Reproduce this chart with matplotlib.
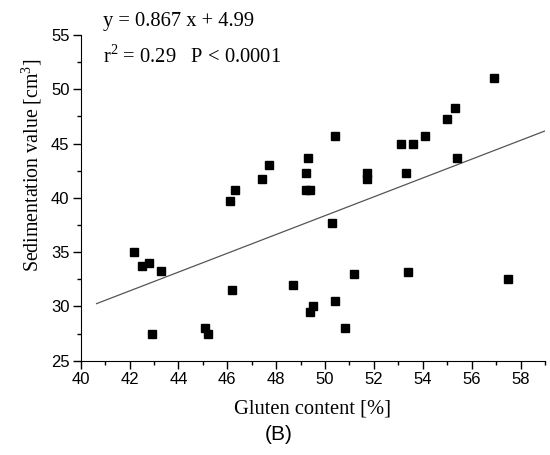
import matplotlib
matplotlib.use("Agg")
import matplotlib.pyplot as plt
import numpy as np
from matplotlib.ticker import MultipleLocator

# gluten content [%] and sedimentation value [cm3]
gluten = [42.2, 42.5, 42.8, 43.3, 42.9, 45.1, 45.2, 46.1, 46.3, 46.2,
          47.4, 47.7, 48.7, 49.2, 49.3, 49.2, 49.4, 49.4, 49.5, 50.3,
          50.4, 50.4, 50.8, 51.2, 51.7, 51.7, 53.1, 53.3, 53.6, 53.4,
          54.1, 55.0, 55.3, 55.4, 56.9, 57.5]
sediment = [35.0, 33.7, 34.0, 33.3, 27.5, 28.0, 27.5, 39.7, 40.7, 31.5,
            41.7, 43.0, 32.0, 42.3, 43.7, 40.7, 40.7, 29.5, 30.0, 37.7,
            45.7, 30.5, 28.0, 33.0, 42.3, 41.7, 45.0, 42.3, 45.0, 33.2,
            45.7, 47.3, 48.3, 43.7, 51.0, 32.5]

# fitted line as drawn (intercept of drawn line is negative)
slope = 0.867
intercept = -4.99
line_x = [40.65, 59.0]

SERIF = "Liberation Serif"
SANS = "Liberation Sans"

plt.rcParams["font.family"] = SANS
plt.rcParams["mathtext.fontset"] = "custom"
plt.rcParams["mathtext.rm"] = SERIF

fig = plt.figure(figsize=(5.5, 4.55), dpi=100)
ax = fig.add_axes([0.1467, 0.2073, 0.8442, 0.7158])

lx = np.array(line_x)
ax.plot(lx, slope * lx + intercept, color="#555555", linewidth=0.9)
ax.plot(gluten, sediment, linestyle="none", marker="s", markersize=6,
        color="black")

ax.set_xlim(40, 59)
ax.set_ylim(25, 55)
ax.xaxis.set_major_locator(MultipleLocator(2))
ax.xaxis.set_minor_locator(MultipleLocator(1))
ax.yaxis.set_major_locator(MultipleLocator(5))
ax.yaxis.set_minor_locator(MultipleLocator(2.5))
ax.tick_params(which="major", direction="out", length=6, width=1,
               labelsize=12, pad=2)
ax.tick_params(which="minor", direction="out", length=3, width=1)

ax.spines["top"].set_visible(False)
ax.spines["right"].set_visible(False)

ax.set_xlabel("Gluten content [%]", fontfamily=SERIF, fontsize=14.8,
              labelpad=9)
ax.set_ylabel("Sedimentation value [cm$^3$]", fontfamily=SERIF,
              fontsize=14.3)
ax.yaxis.set_label_coords(-0.08, 0.60)

fig.text(0.187, 0.953, "y = 0.867 x + 4.99", fontfamily=SERIF,
         fontsize=14.8, va="center")
fig.text(0.187, 0.875, "r$^2$ = 0.29   P < 0.0001", fontfamily=SERIF,
         fontsize=14.8, va="center")
fig.text(0.506, 0.044, "(B)", fontfamily=SANS, fontsize=15,
         ha="center", va="center")

fig.savefig("out.png", dpi=100)
